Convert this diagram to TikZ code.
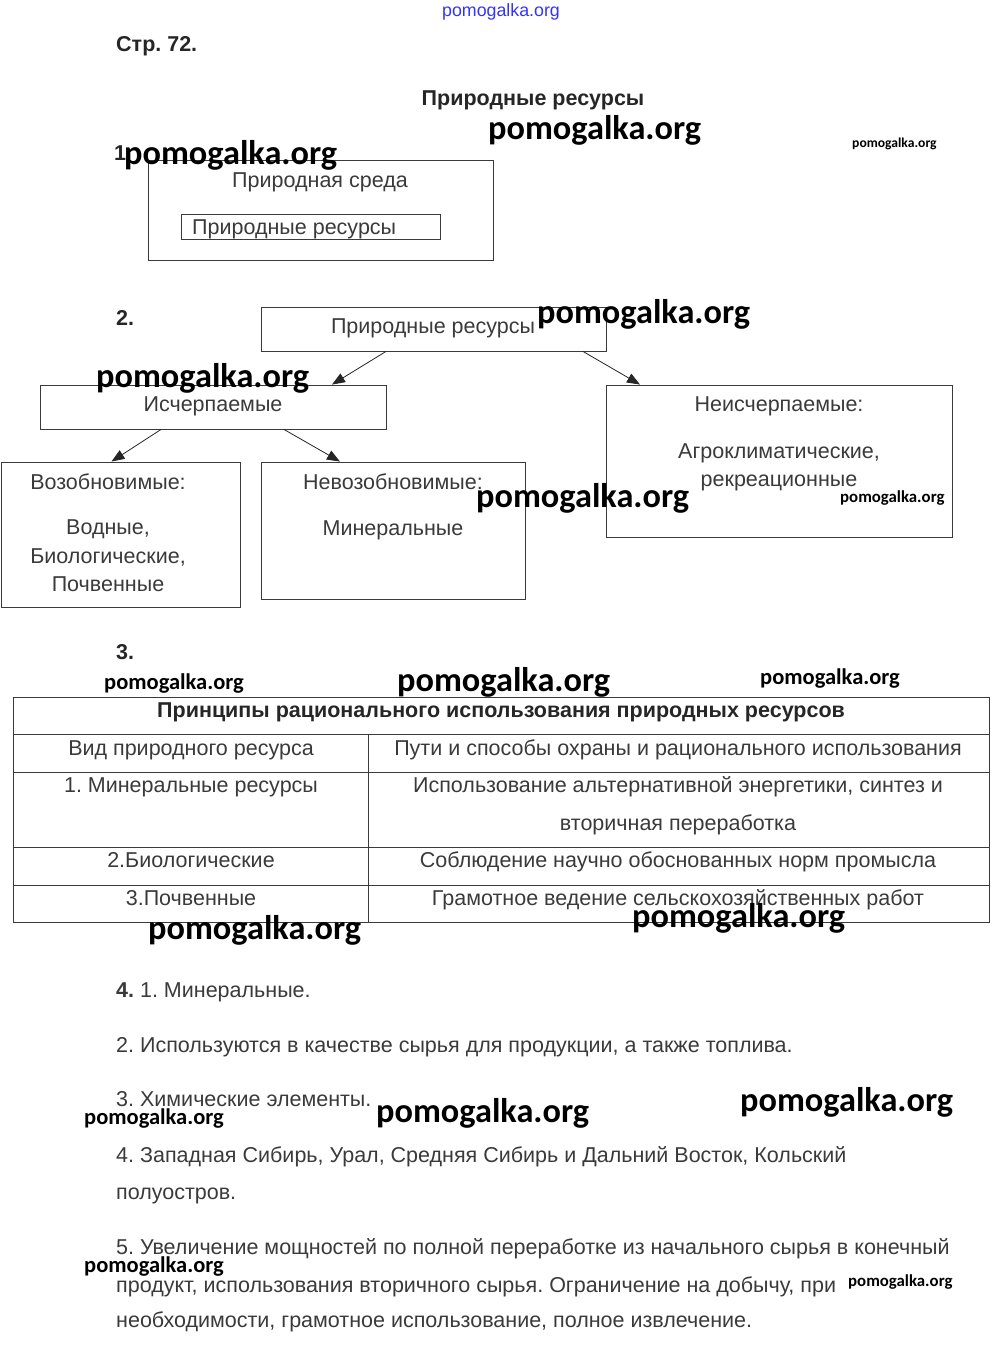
\documentclass[tikz,border=0pt]{standalone}
\usepackage{fontspec}
\setmainfont{Liberation Sans}
\newfontfamily\wmfont{Carlito}
\usetikzlibrary{arrows.meta}
\definecolor{inkgray}{HTML}{3A3A3A}
\frenchspacing

\tikzset{
  box/.style={draw=inkgray, line width=0.9pt, inner sep=0pt},
  txt/.style={text=inkgray, font=\fontsize{21.5}{25}\selectfont, inner sep=0pt, anchor=mid},
  txtl/.style={txt, anchor=mid west},
  hdr/.style={txt, text=black!85, font=\bfseries\fontsize{21.5}{25}\selectfont},
  arr/.style={draw=black!85, line width=0.8pt, -{Triangle[length=13pt,width=10pt]}},
  wmbig/.style={font=\wmfont\bfseries\fontsize{34.3}{34}\selectfont, inner sep=0pt, anchor=mid west},
  wmmid/.style={wmbig, font=\wmfont\bfseries\fontsize{22.5}{23}\selectfont},
  wmsmall/.style={wmbig, font=\wmfont\bfseries\fontsize{16.8}{17}\selectfont}
}

\begin{document}
\begin{tikzpicture}[x=1pt, y=-1pt]
  \useasboundingbox (0,0) rectangle (1000,1349);

  \node[txt, text=blue!80, font=\fontsize{17.8}{18}\selectfont] (wmtop) at (501,14) {pomogalka.org};
  \node[hdr, anchor=mid west] (page) at (116,49) {Стр. 72.};
  \node[hdr] (title) at (533,103) {Природные ресурсы};

  % 1
  \node[hdr, anchor=mid west] (n1) at (114,158) {1};
  \node[box, minimum width=345pt, minimum height=100pt] (env) at (320.5,210) {};
  \node[txt] (envt) at (320,185) {Природная среда};
  \node[box, minimum width=259pt, minimum height=25pt] (inres) at (310.5,226.5) {};
  \node[txtl] (inrest) at (192,232) {Природные ресурсы};

  % 2
  \node[hdr, anchor=mid west] (n2) at (116,323) {2.};
  \node[box, minimum width=345pt, minimum height=44pt] (res) at (433.5,329) {};
  \node[txt] (rest) at (433,331) {Природные ресурсы};
  \node[box, minimum width=346pt, minimum height=44pt] (exh) at (213,407) {};
  \node[txt] (exht) at (213,409) {Исчерпаемые};
  \node[box, minimum width=346pt, minimum height=152pt] (inex) at (779,461) {};
  \node[txt] (inext) at (779,409) {Неисчерпаемые:};
  \node[txt] (inext2) at (779,456) {Агроклиматические,};
  \node[txt] (inext3) at (779,484) {рекреационные};
  \node[box, minimum width=239pt, minimum height=145pt] (ren) at (120.5,534.5) {};
  \node[txt] (rent) at (108,487) {Возобновимые:};
  \node[txt] (rent2) at (108,532) {Водные,};
  \node[txt] (rent3) at (108,561) {Биологические,};
  \node[txt] (rent4) at (108,589) {Почвенные};
  \node[box, minimum width=264pt, minimum height=137pt] (nonren) at (393,530.5) {};
  \node[txt] (nonrent) at (393,487) {Невозобновимые:};
  \node[txt] (nonrent2) at (393,533) {Минеральные};

  \draw[arr] ([xshift=-47.5pt]res.south) -- ([xshift=119pt]exh.north);
  \draw[arr] ([xshift=149.5pt]res.south) -- ([xshift=-139pt]inex.north);
  \draw[arr] ([xshift=-52pt]exh.south) -- ([xshift=-9pt]ren.north);
  \draw[arr] ([xshift=71pt]exh.south) -- ([xshift=-53pt]nonren.north);

  % 3
  \node[hdr, anchor=mid west] (n3) at (116,657) {3.};
  \draw[inkgray, line width=0.9pt] (13,697) rectangle (989,922);
  \foreach \y in {734,772,847,885}
    \draw[inkgray, line width=0.9pt] (13,\y) -- (989,\y);
  \draw[inkgray, line width=0.9pt] (368,734) -- (368,922);
  \node[hdr] (thead) at (501,715) {Принципы рационального использования природных ресурсов};
  \node[txt] (c11) at (191,753) {Вид природного ресурса};
  \node[txt] (c12) at (678,753) {Пути и способы охраны и рационального использования};
  \node[txt] (c21) at (191,790) {1. Минеральные ресурсы};
  \node[txt] (c22) at (678,790) {Использование альтернативной энергетики, синтез и};
  \node[txt] (c22b) at (678,828) {вторичная переработка};
  \node[txt] (c31) at (191,865) {2.Биологические};
  \node[txt] (c32) at (678,865) {Соблюдение научно обоснованных норм промысла};
  \node[txt] (c41) at (191,903) {3.Почвенные};
  \node[txt] (c42) at (678,903) {Грамотное ведение сельскохозяйственных работ};

  % 4
  \node[txtl] (a1) at (116,995) {\textbf{4.} 1. Минеральные.};
  \node[txtl] (a2) at (116,1050) {2. Используются в качестве сырья для продукции, а также топлива.};
  \node[txtl] (a3) at (116,1104) {3. Химические элементы.};
  \node[txtl] (a4) at (116,1160) {4. Западная Сибирь, Урал, Средняя Сибирь и Дальний Восток, Кольский};
  \node[txtl] (a4b) at (116,1197) {полуостров.};
  \node[txtl] (a5) at (116,1252) {5. Увеличение мощностей по полной переработке из начального сырья в конечный};
  \node[txtl] (a5b) at (116,1290) {продукт, использования вторичного сырья. Ограничение на добычу, при};
  \node[txtl] (a5c) at (116,1325) {необходимости, грамотное использование, полное извлечение.};

  % watermarks
  \node[wmbig] (wm1) at (488,137) {pomogalka.org};
  \node[wmsmall, font=\wmfont\bfseries\fontsize{13.6}{14}\selectfont] (wm2) at (852,145) {pomogalka.org};
  \node[wmbig] (wm3) at (124,162) {pomogalka.org};
  \node[wmbig] (wm4) at (537,321) {pomogalka.org};
  \node[wmbig] (wm5) at (96,385) {pomogalka.org};
  \node[wmbig] (wm6) at (476,505) {pomogalka.org};
  \node[wmsmall] (wm7) at (840,500) {pomogalka.org};
  \node[wmmid] (wm8) at (104,687) {pomogalka.org};
  \node[wmbig] (wm9) at (397,689) {pomogalka.org};
  \node[wmmid] (wm10) at (760,682) {pomogalka.org};
  \node[wmbig] (wm11) at (148,937) {pomogalka.org};
  \node[wmbig] (wm12) at (632,925) {pomogalka.org};
  \node[wmmid] (wm13) at (84,1122) {pomogalka.org};
  \node[wmbig] (wm14) at (376,1120) {pomogalka.org};
  \node[wmbig] (wm15) at (740,1109) {pomogalka.org};
  \node[wmmid] (wm16) at (84,1270) {pomogalka.org};
  \node[wmsmall] (wm17) at (848,1284) {pomogalka.org};
\end{tikzpicture}
\end{document}
